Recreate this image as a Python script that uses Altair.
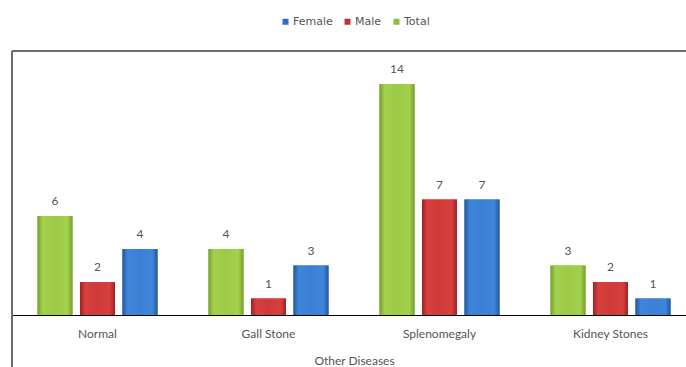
import altair as alt
import pandas as pd

categories = ["Normal", "Gall Stone", "Splenomegaly", "Kidney Stones"]
total = [6, 4, 14, 3]
male = [2, 1, 7, 2]
female = [4, 3, 7, 1]
series_order = ["Total", "Male", "Female"]
legend_order = ["Female", "Male", "Total"]
colors = ["#2f6fc2", "#c4302f", "#8fbf3c"]

rows = []
for i, c in enumerate(categories):
    rows.append({"category": c, "series": "Total", "value": total[i]})
    rows.append({"category": c, "series": "Male", "value": male[i]})
    rows.append({"category": c, "series": "Female", "value": female[i]})
df = pd.DataFrame(rows)

FONT = "Lato"
LFONT = "DejaVu Sans"
TXT = "#555555"

x_enc = alt.X("category:N", sort=categories,
              scale=alt.Scale(range=[0, 684], paddingInner=0, paddingOuter=0),
              axis=alt.Axis(title="Other Diseases", labelAngle=0, ticks=False,
                            domainColor="#000000", domainWidth=1,
                            labelPadding=13, labelFontSize=12, labelColor=TXT,
                            labelFont=FONT, titleFont=FONT, titleFontSize=12,
                            titleFontWeight="normal", titleColor=TXT,
                            titlePadding=16, grid=False))
xo_enc = alt.XOffset("series:N", sort=series_order,
                     scale=alt.Scale(paddingInner=0.176, paddingOuter=0.6))
y_enc = alt.Y("value:Q", scale=alt.Scale(domain=[0, 16], nice=False), axis=None)

base = alt.Chart(df)

bars = base.mark_bar().encode(
    x=x_enc, xOffset=xo_enc, y=y_enc,
    color=alt.Color("series:N",
                    scale=alt.Scale(domain=legend_order, range=colors),
                    legend=alt.Legend(title=None, orient="none", direction="horizontal",
                                      legendX=268, legendY=-35, symbolType="square",
                                      symbolSize=36, symbolStrokeWidth=0,
                                      labelFont=LFONT, labelFontSize=11,
                                      labelColor=TXT, columnPadding=9,
                                      labelOffset=2, padding=0)),
)

grads = {
    "Total": [("#76a02a", 0), ("#a3d14e", 0.15), ("#9cc946", 0.5), ("#a3d14e", 0.85), ("#76a02a", 1)],
    "Male": [("#a02022", 0), ("#d8403e", 0.15), ("#d03939", 0.5), ("#d8403e", 0.85), ("#a02022", 1)],
    "Female": [("#22579e", 0), ("#3f86da", 0.15), ("#3a7fd3", 0.5), ("#3f86da", 0.85), ("#22579e", 1)],
}
glayers = []
for s in series_order:
    g = alt.Gradient(gradient="linear", x1=0, x2=1, y1=0, y2=0,
                     stops=[alt.GradientStop(color=c, offset=o) for c, o in grads[s]])
    glayers.append(
        base.transform_filter(alt.datum.series == s).mark_bar(color=g).encode(
            x=x_enc, xOffset=xo_enc, y=y_enc)
    )

labels = base.mark_text(dy=-8, baseline="bottom", fontSize=12, color=TXT,
                        font=FONT).encode(
    x=x_enc, xOffset=xo_enc, y=y_enc, text="value:Q")

top_line = alt.Chart(pd.DataFrame({"a": [0]})).mark_rule(color="#6b6b6b", strokeWidth=2).encode(
    x=alt.value(0), x2=alt.value(690), y=alt.value(0))
left_line = alt.Chart(pd.DataFrame({"a": [0]})).mark_rule(color="#6b6b6b", strokeWidth=2).encode(
    x=alt.value(0), y=alt.value(0), y2=alt.value(330))

chart = alt.layer(bars, *glayers, labels, top_line, left_line).properties(
    width=674, height=264,
    autosize=alt.AutoSizeParams(type="none"),
    padding={"left": 12, "top": 51, "right": 0, "bottom": 52},
).configure_view(strokeWidth=0).configure(background="white")

chart.save("out.html", embed_options={"renderer": "svg", "actions": False})
